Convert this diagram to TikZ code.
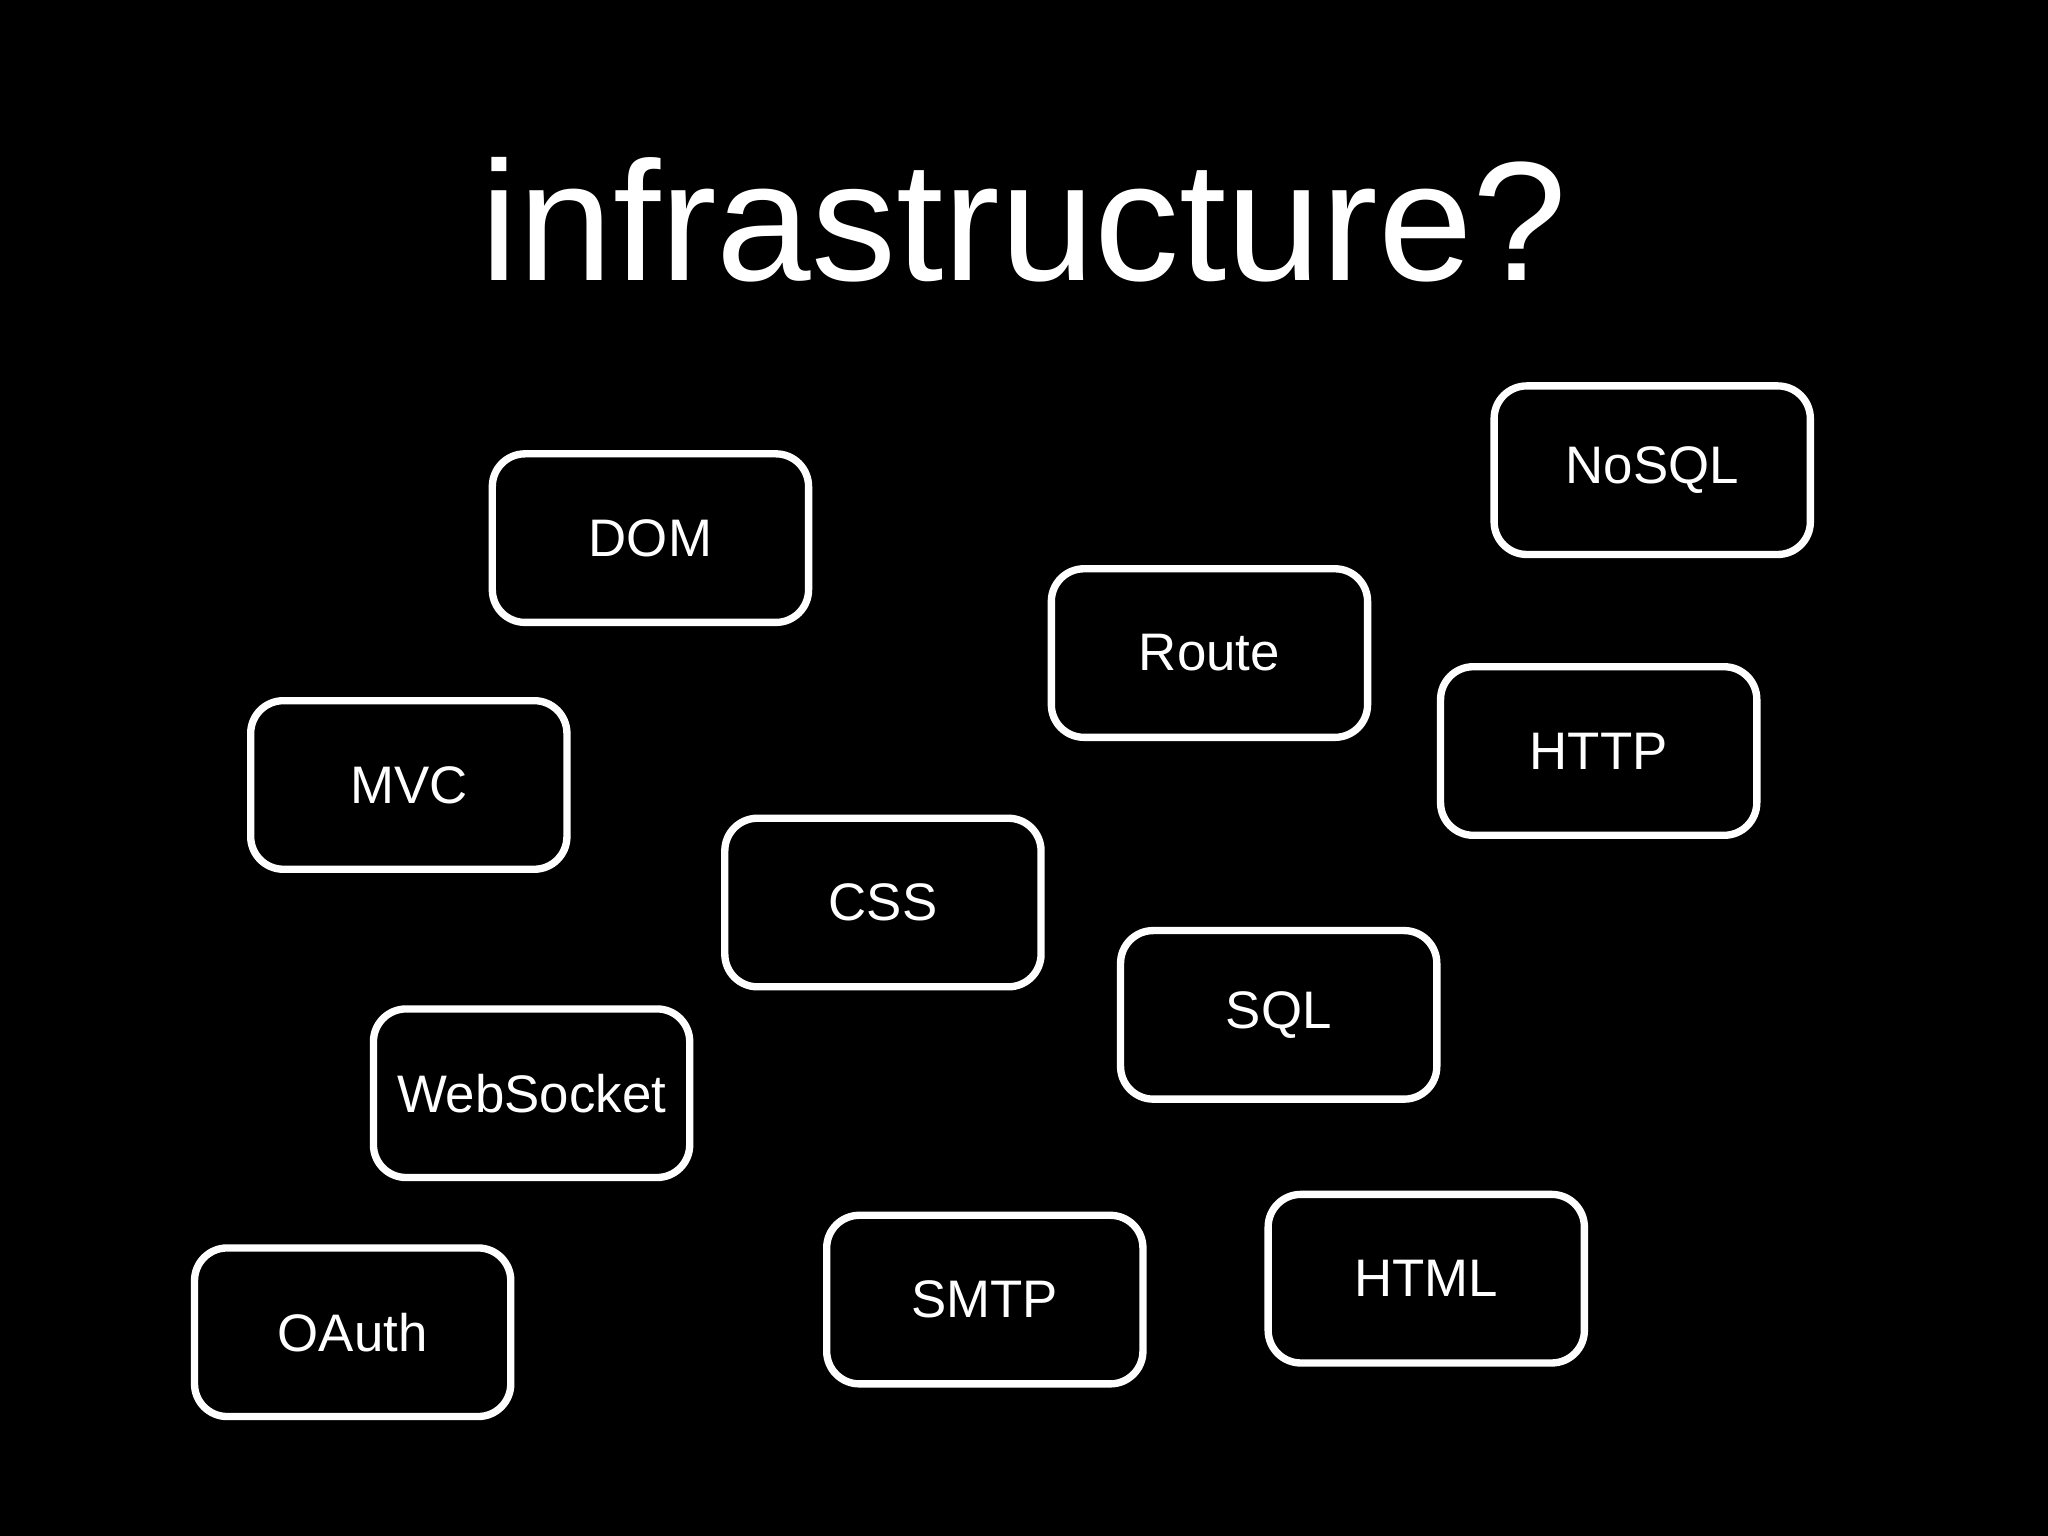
\documentclass[tikz,border=0pt]{standalone}
\usepackage{fontspec}
\setmainfont{Liberation Sans}
\begin{document}
\begin{tikzpicture}[x=0.01cm, y=-0.01cm,
  term/.style = {draw=white!90, line width=1.6pt, rounded corners=0.25cm, minimum width=2.42cm, minimum height=1.29cm, text=white, font=\fontsize{11.5}{14}\selectfont}]
\fill[black] (0,0) rectangle (1568,1176);
\useasboundingbox (0,0) rectangle (1568,1176);
\node[text=white, font=\fontsize{37}{44}\selectfont] (title) at (784,168) {infrastructure?};
\node[term] (dom) at (498,412) {DOM};
\node[term] (nosql) at (1265,360) {NoSQL};
\node[term] (route) at (926,500) {Route};
\node[term] (http) at (1224,575) {HTTP};
\node[term] (mvc) at (313,601) {MVC};
\node[term] (css) at (676,691) {CSS};
\node[term] (sql) at (979,777) {SQL};
\node[term] (ws) at (407,837) {WebSocket};
\node[term] (oauth) at (270,1020) {OAuth};
\node[term] (smtp) at (754,995) {SMTP};
\node[term] (html) at (1092,979) {HTML};
\end{tikzpicture}
\end{document}
